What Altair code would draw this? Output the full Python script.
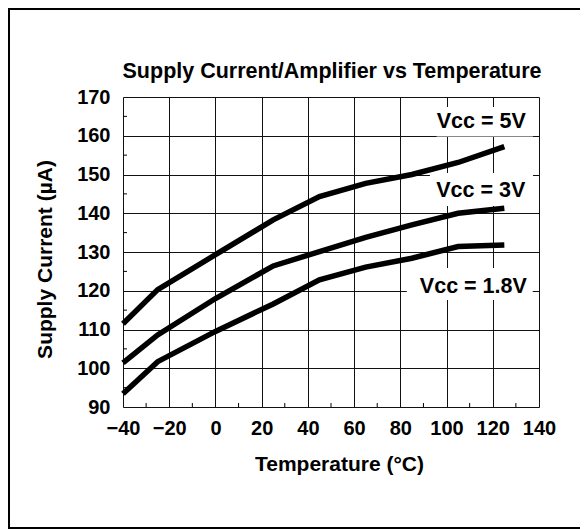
import altair as alt
import pandas as pd

# ---- data ----
temps = [-40, -25, 0, 25, 45, 65, 85, 105, 125]
vcc_5v = [111.5, 120.3, 129.3, 138.3, 144.3, 147.7, 150.0, 153.1, 157.2]
vcc_3v = [101.4, 108.6, 118.0, 126.4, 130.1, 133.8, 137.0, 140.0, 141.3]
vcc_18v = [93.4, 101.7, 109.5, 116.6, 122.8, 126.1, 128.4, 131.4, 131.8]
series_names = ["Vcc = 5V", "Vcc = 3V", "Vcc = 1.8V"]
chart_title = "Supply Current/Amplifier vs Temperature"

# label annotations (data units)
label_x = [115.0, 114.8, 111.6]
label_y = [161.9, 144.1, 119.5]
box_x1 = [95.7, 92.8, 82.8]
box_x2 = [137.4, 137.4, 137.3]
box_y1 = [167.4, 150.4, 125.9]
box_y2 = [159.8, 141.9, 117.6]

x_ticks = list(range(-40, 141, 20))
y_ticks = list(range(90, 171, 10))
x_minor = list(range(-30, 131, 20))
y_minor = list(range(95, 166, 10))

FONT = "Liberation Sans"
W, H = 416, 310

rows = []
for name, vals in zip(series_names, [vcc_5v, vcc_3v, vcc_18v]):
    for t, v in zip(temps, vals):
        rows.append({"series": name, "temp": t, "current": v})
df = pd.DataFrame(rows)

labels_df = pd.DataFrame({"text": series_names, "lx": label_x, "ly": label_y,
                          "bx1": box_x1, "bx2": box_x2, "by1": box_y1, "by2": box_y2})

xscale = alt.Scale(domain=[-40, 140], nice=False, zero=False)
yscale = alt.Scale(domain=[90, 170], nice=False, zero=False)

xaxis = alt.Axis(values=x_ticks, grid=True, gridColor="#111", gridWidth=1, ticks=False,
                 domain=False, labelFont=FONT, labelFontSize=20, labelFontWeight="bold",
                 labelColor="black", labelPadding=11, labelFlush=False, labelOverlap=False,
                 title="Temperature (°C)", titleFont=FONT, titleFontSize=21,
                 titleFontWeight="bold", titleColor="black", titleX=216, titleY=63,
                 titleBaseline="alphabetic", titleAlign="center")
yaxis = alt.Axis(values=y_ticks, grid=True, gridColor="#111", gridWidth=1, ticks=False,
                 domain=False, labelFont=FONT, labelFontSize=20, labelFontWeight="bold",
                 labelColor="black", labelPadding=13, labelOverlap=False,
                 title="Supply Current (µA)", titleFont=FONT, titleFontSize=21,
                 titleFontWeight="bold", titleColor="black", titleX=-72, titleY=162,
                 titleAngle=270, titleBaseline="alphabetic", titleAlign="center")

X = lambda f: alt.X(f, scale=xscale, axis=xaxis)
Y = lambda f: alt.Y(f, scale=yscale, axis=yaxis)

lines = alt.Chart(df).mark_line(color="black", strokeWidth=5.5, strokeCap="butt",
                                strokeJoin="miter").encode(
    x=X("temp:Q"), y=Y("current:Q"), detail="series:N",
)

boxes = alt.Chart(labels_df).mark_rect(color="white").encode(
    x=X("bx1:Q"), x2="bx2:Q", y=Y("by1:Q"), y2="by2:Q",
)

texts = alt.Chart(labels_df).mark_text(font=FONT, fontSize=21.5, fontWeight="bold",
                                       color="black", align="center",
                                       baseline="alphabetic").encode(
    x=X("lx:Q"), y=Y("ly:Q"), text="text:N"
)

minor_x = alt.Chart(pd.DataFrame({"t": x_minor})).mark_rule(color="black", strokeWidth=1).encode(
    x=X("t:Q"), y=alt.value(H), y2=alt.value(H - 4)
)
minor_y = alt.Chart(pd.DataFrame({"c": y_minor})).mark_rule(color="black", strokeWidth=1).encode(
    y=Y("c:Q"), x=alt.value(0), x2=alt.value(4)
)

title_mark = alt.Chart(pd.DataFrame({"t": [chart_title]})).mark_text(
    font=FONT, fontSize=21.5, fontWeight="bold", color="black", align="center",
    baseline="alphabetic").encode(x=alt.value(W / 2 + 1), y=alt.value(-19.5), text="t:N")

# outer frame of the figure (its right edge lies beyond the picture, as in the reference)
frame = alt.Chart(pd.DataFrame({"a": [0]})).mark_rect(
    fillOpacity=0, stroke="black", strokeWidth=2).encode(
    x=alt.value(-114), x2=alt.value(480), y=alt.value(-88), y2=alt.value(431))

chart = alt.layer(boxes, minor_x, minor_y, lines, texts, title_mark, frame).properties(
    width=W, height=H,
    autosize=alt.AutoSizeParams(type="none"),
    padding={"left": 115, "top": 89, "right": 41, "bottom": 122},
).configure_view(stroke="black", strokeWidth=1.5).configure(background="white")

chart.save("out.html", embed_options={"renderer": "svg", "actions": False})
